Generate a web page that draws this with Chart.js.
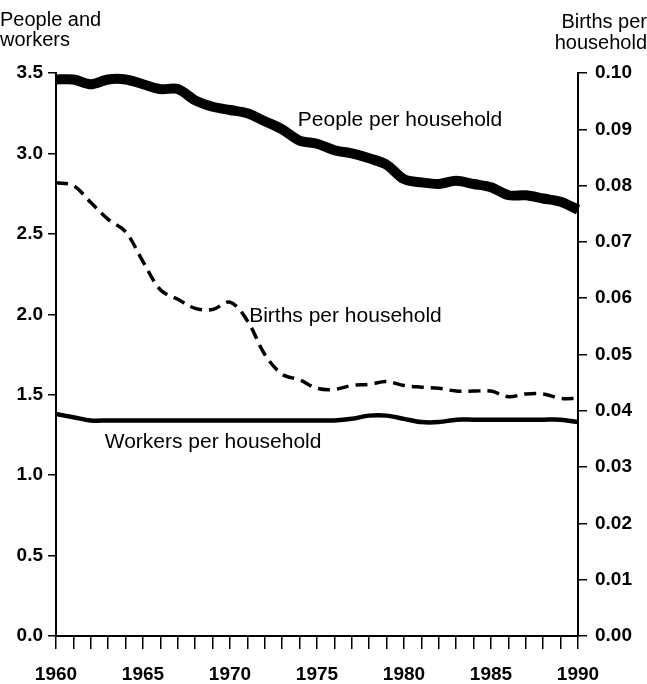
<!DOCTYPE html>
<html>
<head>
<meta charset="utf-8">
<title>People, workers and births per household</title>
<script src="https://cdn.jsdelivr.net/npm/chart.js@4.4.1/dist/chart.umd.min.js"></script>
<style>
  html, body { margin: 0; padding: 0; background: #fff; }
  #wrap { width: 647px; height: 684px; }
</style>
</head>
<body>
<div id="wrap"><canvas id="chart-household" width="647" height="684"></canvas></div>
<script>
// data
var years = [1960, 1961, 1962, 1963, 1964, 1965, 1966, 1967, 1968, 1969,
             1970, 1971, 1972, 1973, 1974, 1975, 1976, 1977, 1978, 1979,
             1980, 1981, 1982, 1983, 1984, 1985, 1986, 1987, 1988, 1989, 1990];
var peoplePerHousehold = [3.46, 3.46, 3.43, 3.46, 3.46, 3.43, 3.40, 3.40, 3.33, 3.29,
                          3.27, 3.25, 3.20, 3.15, 3.08, 3.06, 3.02, 3.00, 2.97, 2.93,
                          2.84, 2.82, 2.81, 2.83, 2.81, 2.79, 2.74, 2.74, 2.72, 2.70, 2.65];
var workersPerHousehold = [1.38, 1.36, 1.34, 1.34, 1.34, 1.34, 1.34, 1.34, 1.34, 1.34,
                           1.34, 1.34, 1.34, 1.34, 1.34, 1.34, 1.34, 1.35, 1.37, 1.37,
                           1.35, 1.33, 1.33, 1.345, 1.345, 1.345, 1.345, 1.345, 1.345, 1.345, 1.33];
var birthsPerHousehold = [0.0805, 0.0800, 0.0770, 0.0740, 0.0718, 0.0665, 0.0615, 0.0598, 0.0582, 0.0580,
                          0.0593, 0.0560, 0.0500, 0.0465, 0.0455, 0.0440, 0.0438, 0.0445, 0.0447, 0.0452,
                          0.0445, 0.0442, 0.0440, 0.0435, 0.0435, 0.0435, 0.0425, 0.0430, 0.0430, 0.0422, 0.0422];
var leftTicks = [0.0, 0.5, 1.0, 1.5, 2.0, 2.5, 3.0, 3.5];
var rightTicks = [0.00, 0.01, 0.02, 0.03, 0.04, 0.05, 0.06, 0.07, 0.08, 0.09, 0.10];
var yearLabels = [1960, 1965, 1970, 1975, 1980, 1985, 1990];

var FONT = "'Liberation Sans', Arial, Helvetica, sans-serif";

function pairs(ys) {
    return years.map(function (yr, i) { return { x: yr, y: ys[i] }; });
}

var textPlugin = {
    id: 'textPlugin',
    afterDatasetsDraw: function (chart) {
        var ctx = chart.ctx;
        var x = chart.scales.x, y = chart.scales.y;
        ctx.save();
        ctx.fillStyle = '#000';
        ctx.textBaseline = 'alphabetic';

        // axis titles
        ctx.font = '20px ' + FONT;
        ctx.textAlign = 'left';
        ctx.fillText('People and', 0, 26);
        ctx.fillText('workers', 0, 46);
        ctx.textAlign = 'right';
        ctx.fillText('Births per', 647, 28);
        ctx.fillText('household', 647, 49);

        // series labels
        ctx.font = '21px ' + FONT;
        ctx.textAlign = 'left';
        ctx.fillText('People per household', x.getPixelForValue(1973.9), y.getPixelForValue(3.17));
        ctx.fillText('Births per household', x.getPixelForValue(1971.1), y.getPixelForValue(1.95));
        ctx.fillText('Workers per household', x.getPixelForValue(1962.8), y.getPixelForValue(1.17));
        ctx.restore();
    }
};

var tickFont = { family: FONT, size: 19, weight: 'bold' };

var chart = new Chart(document.getElementById('chart-household'), {
    type: 'line',
    data: {
        datasets: [{
            label: 'People per household',
            data: pairs(peoplePerHousehold),
            yAxisID: 'y',
            borderColor: '#000',
            borderWidth: 10,
            tension: 0.3,
            pointRadius: 0,
            fill: false
        }, {
            label: 'Births per household',
            data: pairs(birthsPerHousehold),
            yAxisID: 'y1',
            borderColor: '#000',
            borderWidth: 3.5,
            borderDash: [12, 7],
            tension: 0.35,
            pointRadius: 0,
            fill: false
        }, {
            label: 'Workers per household',
            data: pairs(workersPerHousehold),
            yAxisID: 'y',
            borderColor: '#000',
            borderWidth: 4.5,
            tension: 0.3,
            pointRadius: 0,
            fill: false
        }]
    },
    options: {
        responsive: false,
        animation: false,
        devicePixelRatio: 1,
        clip: false,
        layout: { padding: { top: 73, left: 0, right: 0, bottom: 0 } },
        plugins: {
            legend: { display: false },
            tooltip: { enabled: false },
            title: { display: false }
        },
        scales: {
            x: {
                type: 'linear',
                min: 1960,
                max: 1990,
                afterBuildTicks: function (scale) {
                    scale.ticks = years.map(function (v) { return { value: v }; });
                },
                afterFit: function (scale) { scale.height = 48; },
                ticks: {
                    autoSkip: false,
                    maxRotation: 0,
                    padding: 14,
                    color: '#000',
                    font: tickFont,
                    callback: function (v) { return yearLabels.indexOf(v) >= 0 ? String(v) : ''; }
                },
                grid: { drawOnChartArea: false, tickLength: 13, color: '#000', lineWidth: 1.5 },
                border: { display: true, color: '#000', width: 2 }
            },
            y: {
                position: 'left',
                min: 0,
                max: 3.5,
                afterBuildTicks: function (scale) {
                    scale.ticks = leftTicks.map(function (v) { return { value: v }; });
                },
                afterFit: function (scale) { scale.width = 56; },
                ticks: {
                    padding: 5,
                    color: '#000',
                    font: tickFont,
                    callback: function (v) { return v.toFixed(1); }
                },
                grid: { drawOnChartArea: false, tickLength: 8, color: '#000', lineWidth: 1.5 },
                border: { display: true, color: '#000', width: 2 }
            },
            y1: {
                position: 'right',
                min: 0,
                max: 0.1,
                afterBuildTicks: function (scale) {
                    scale.ticks = rightTicks.map(function (v) { return { value: v }; });
                },
                afterFit: function (scale) { scale.width = 69; },
                ticks: {
                    padding: 8,
                    color: '#000',
                    font: tickFont,
                    callback: function (v) { return v.toFixed(2); }
                },
                grid: { drawOnChartArea: false, tickLength: 9, color: '#000', lineWidth: 1.5 },
                border: { display: true, color: '#000', width: 2 }
            }
        }
    },
    plugins: [textPlugin]
});
</script>
</body>
</html>
